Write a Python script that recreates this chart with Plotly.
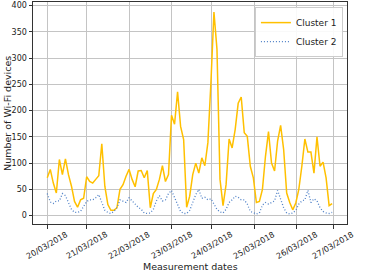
import plotly.graph_objects as go

cluster1 = [72, 88, 62, 43, 107, 78, 108, 78, 56, 27,
            16, 30, 33, 74, 65, 62, 69, 76, 137, 56,
            21, 10, 10, 15, 50, 59, 75, 88, 69, 55,
            85, 86, 72, 86, 15, 42, 50, 69, 95, 65,
            78, 191, 174, 236, 170, 145, 16, 37, 78, 100,
            81, 110, 95, 139, 253, 388, 317, 69, 19, 59,
            146, 129, 164, 214, 226, 158, 151, 94, 72, 25,
            27, 50, 113, 160, 100, 85, 142, 172, 126, 43,
            25, 11, 24, 50, 94, 146, 121, 121, 81, 150,
            94, 102, 72, 19, 23]
cluster2 = [42, 26, 23, 28, 28, 42, 38, 25, 12, 6,
            6, 8, 18, 27, 30, 30, 34, 40, 25, 10,
            6, 4, 8, 15, 30, 28, 25, 34, 28, 20,
            16, 12, 5, 4, 5, 12, 28, 38, 28, 30,
            42, 48, 35, 20, 8, 4, 4, 10, 25, 40,
            50, 33, 35, 30, 32, 22, 12, 7, 5, 12,
            25, 30, 37, 35, 30, 30, 22, 8, 5, 3,
            5, 20, 25, 22, 25, 28, 48, 30, 15, 5,
            3, 5, 10, 22, 28, 30, 48, 25, 32, 28,
            15, 8, 5, 4, 6]
sample_index = list(range(len(cluster1)))
tick_positions = [0, 13.0, 27.1, 41.0, 54.3, 68.3, 82.4, 94.3]
tick_labels = ["20/03/2018", "21/03/2018", "22/03/2018", "23/03/2018",
               "24/03/2018", "25/03/2018", "26/03/2018", "27/03/2018"]
y_ticks = [0, 50, 100, 150, 200, 250, 300, 350, 400]

FONT = "DejaVu Sans"
TXT = "#222222"

fig = go.Figure()
fig.add_trace(go.Scatter(x=sample_index, y=cluster1, mode="lines", name="Cluster 1",
                         line=dict(color="#FFC000", width=1.5)))
fig.add_trace(go.Scatter(x=sample_index, y=cluster2, mode="lines", name="Cluster 2",
                         line=dict(color="#4F81C7", width=1.3, dash="1px,2px")))

axis_common = dict(showline=True, linecolor="#333333", linewidth=1, mirror=True,
                   ticks="outside", ticklen=3.5, tickcolor="#333333",
                   showgrid=True, gridcolor="#c4c4c4", gridwidth=1, zeroline=False,
                   automargin=False,
                   tickfont=dict(family=FONT, size=8, color=TXT))
fig.update_xaxes(range=[-4.7, 98.9], tickvals=tick_positions, showticklabels=False,
                 **axis_common)
fig.update_yaxes(range=[-16, 407], tickvals=y_ticks, **axis_common)

annotations = [
    dict(text="Measurement dates", xref="paper", yref="paper",
         x=0.5, y=-0.19, xanchor="center", yanchor="middle",
         showarrow=False, font=dict(family=FONT, size=9.5, color=TXT)),
    dict(text="Number of Wi-Fi devices", xref="paper", yref="paper",
         x=-0.083, y=0.5, xanchor="center", yanchor="middle", textangle=-90,
         showarrow=False, font=dict(family=FONT, size=9.5, color=TXT)),
]
for pos, lab in zip(tick_positions, tick_labels):
    annotations.append(dict(text=lab, x=pos, xref="x", y=-0.097, yref="paper",
                            xanchor="center", yanchor="middle", textangle=-30,
                            showarrow=False, font=dict(family=FONT, size=8, color=TXT)))

fig.update_layout(width=365, height=274, margin=dict(l=33, r=18, t=2, b=50),
                  paper_bgcolor="white", plot_bgcolor="white",
                  font=dict(family=FONT, size=9.5, color=TXT),
                  legend=dict(x=0.987, y=0.977, xanchor="right", yanchor="top",
                              bgcolor="rgba(255,255,255,0.9)", bordercolor="#cccccc", borderwidth=1,
                              font=dict(family=FONT, size=9, color=TXT),
                              tracegroupgap=0, itemwidth=30),
                  annotations=annotations)
fig.write_html("out.html", config={"displayModeBar": False},
               post_script="document.body.style.margin='0';document.body.style.overflow='hidden';")
